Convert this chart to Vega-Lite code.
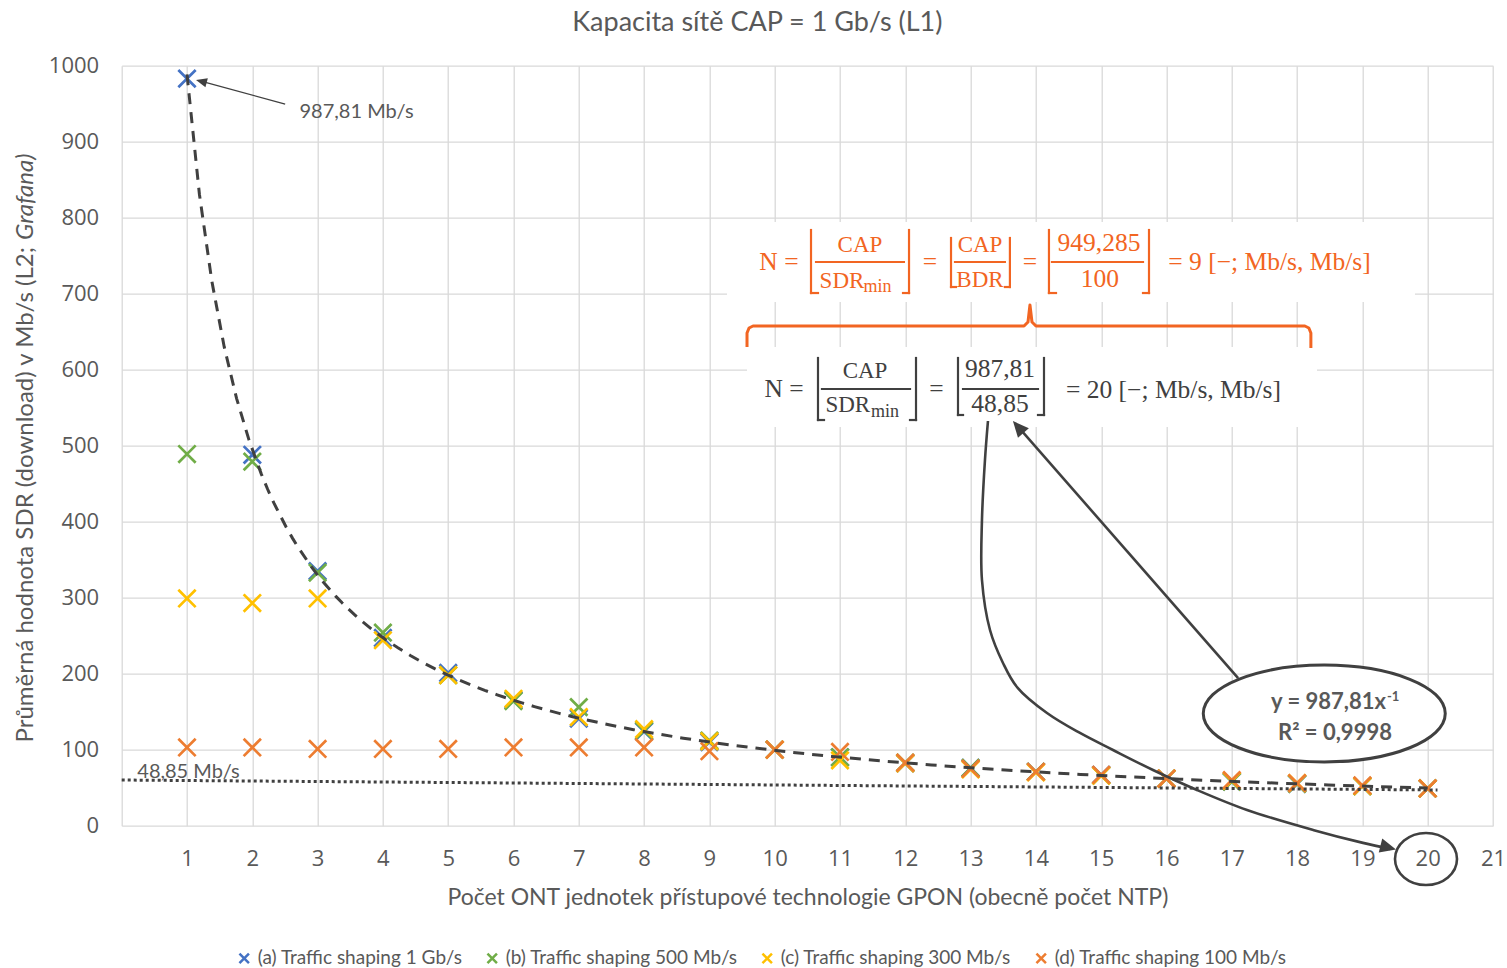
{
  "$schema": "https://vega.github.io/schema/vega-lite/v6.json",
  "width": 1371.3,
  "height": 760,
  "autosize": {"type": "none"},
  "padding": {"left": 121.7, "top": 65.7, "right": 14, "bottom": 142.3},
  "background": "white",
  "title": {"text": "Kapacita sítě CAP = 1 Gb/s (L1)", "font": "Lato", "fontSize": 27, "fontWeight": "normal", "color": "#595959", "anchor": "middle", "frame": "group", "dx": -50, "offset": 18},
  "config": {
    "view": {"stroke": null},
    "axis": {"gridColor": "#D9D9D9", "gridWidth": 1.3, "domain": false, "ticks": false, "labelFont": "Open Sans", "labelFontSize": 22, "labelColor": "#595959", "labelFlush": false, "labelOverlap": false, "format": "d"}
  },
  "datasets": {
    "points": [
      {"n": 1, "sdr": 983, "series": "(a) Traffic shaping 1 Gb/s"},
      {"n": 2, "sdr": 488, "series": "(a) Traffic shaping 1 Gb/s"},
      {"n": 3, "sdr": 335, "series": "(a) Traffic shaping 1 Gb/s"},
      {"n": 4, "sdr": 247, "series": "(a) Traffic shaping 1 Gb/s"},
      {"n": 5, "sdr": 201, "series": "(a) Traffic shaping 1 Gb/s"},
      {"n": 6, "sdr": 165, "series": "(a) Traffic shaping 1 Gb/s"},
      {"n": 7, "sdr": 141, "series": "(a) Traffic shaping 1 Gb/s"},
      {"n": 8, "sdr": 124, "series": "(a) Traffic shaping 1 Gb/s"},
      {"n": 9, "sdr": 110, "series": "(a) Traffic shaping 1 Gb/s"},
      {"n": 10, "sdr": 100, "series": "(a) Traffic shaping 1 Gb/s"},
      {"n": 11, "sdr": 90, "series": "(a) Traffic shaping 1 Gb/s"},
      {"n": 12, "sdr": 82, "series": "(a) Traffic shaping 1 Gb/s"},
      {"n": 13, "sdr": 76, "series": "(a) Traffic shaping 1 Gb/s"},
      {"n": 14, "sdr": 71, "series": "(a) Traffic shaping 1 Gb/s"},
      {"n": 15, "sdr": 67, "series": "(a) Traffic shaping 1 Gb/s"},
      {"n": 16, "sdr": 62, "series": "(a) Traffic shaping 1 Gb/s"},
      {"n": 17, "sdr": 58, "series": "(a) Traffic shaping 1 Gb/s"},
      {"n": 18, "sdr": 55, "series": "(a) Traffic shaping 1 Gb/s"},
      {"n": 19, "sdr": 52, "series": "(a) Traffic shaping 1 Gb/s"},
      {"n": 20, "sdr": 49, "series": "(a) Traffic shaping 1 Gb/s"},
      {"n": 1, "sdr": 489, "series": "(b) Traffic shaping 500 Mb/s"},
      {"n": 2, "sdr": 479, "series": "(b) Traffic shaping 500 Mb/s"},
      {"n": 3, "sdr": 333, "series": "(b) Traffic shaping 500 Mb/s"},
      {"n": 4, "sdr": 254, "series": "(b) Traffic shaping 500 Mb/s"},
      {"n": 5, "sdr": 198, "series": "(b) Traffic shaping 500 Mb/s"},
      {"n": 6, "sdr": 164, "series": "(b) Traffic shaping 500 Mb/s"},
      {"n": 7, "sdr": 156, "series": "(b) Traffic shaping 500 Mb/s"},
      {"n": 8, "sdr": 125, "series": "(b) Traffic shaping 500 Mb/s"},
      {"n": 9, "sdr": 112, "series": "(b) Traffic shaping 500 Mb/s"},
      {"n": 10, "sdr": 100, "series": "(b) Traffic shaping 500 Mb/s"},
      {"n": 11, "sdr": 90, "series": "(b) Traffic shaping 500 Mb/s"},
      {"n": 12, "sdr": 83, "series": "(b) Traffic shaping 500 Mb/s"},
      {"n": 13, "sdr": 76, "series": "(b) Traffic shaping 500 Mb/s"},
      {"n": 14, "sdr": 71, "series": "(b) Traffic shaping 500 Mb/s"},
      {"n": 15, "sdr": 66, "series": "(b) Traffic shaping 500 Mb/s"},
      {"n": 16, "sdr": 62, "series": "(b) Traffic shaping 500 Mb/s"},
      {"n": 17, "sdr": 58, "series": "(b) Traffic shaping 500 Mb/s"},
      {"n": 18, "sdr": 55, "series": "(b) Traffic shaping 500 Mb/s"},
      {"n": 19, "sdr": 52, "series": "(b) Traffic shaping 500 Mb/s"},
      {"n": 20, "sdr": 49, "series": "(b) Traffic shaping 500 Mb/s"},
      {"n": 1, "sdr": 299, "series": "(c) Traffic shaping 300 Mb/s"},
      {"n": 2, "sdr": 293, "series": "(c) Traffic shaping 300 Mb/s"},
      {"n": 3, "sdr": 299, "series": "(c) Traffic shaping 300 Mb/s"},
      {"n": 4, "sdr": 244, "series": "(c) Traffic shaping 300 Mb/s"},
      {"n": 5, "sdr": 198, "series": "(c) Traffic shaping 300 Mb/s"},
      {"n": 6, "sdr": 167, "series": "(c) Traffic shaping 300 Mb/s"},
      {"n": 7, "sdr": 143, "series": "(c) Traffic shaping 300 Mb/s"},
      {"n": 8, "sdr": 127, "series": "(c) Traffic shaping 300 Mb/s"},
      {"n": 9, "sdr": 111, "series": "(c) Traffic shaping 300 Mb/s"},
      {"n": 10, "sdr": 100, "series": "(c) Traffic shaping 300 Mb/s"},
      {"n": 11, "sdr": 86, "series": "(c) Traffic shaping 300 Mb/s"},
      {"n": 12, "sdr": 82, "series": "(c) Traffic shaping 300 Mb/s"},
      {"n": 13, "sdr": 74, "series": "(c) Traffic shaping 300 Mb/s"},
      {"n": 14, "sdr": 70, "series": "(c) Traffic shaping 300 Mb/s"},
      {"n": 15, "sdr": 66, "series": "(c) Traffic shaping 300 Mb/s"},
      {"n": 16, "sdr": 62, "series": "(c) Traffic shaping 300 Mb/s"},
      {"n": 17, "sdr": 59, "series": "(c) Traffic shaping 300 Mb/s"},
      {"n": 18, "sdr": 56, "series": "(c) Traffic shaping 300 Mb/s"},
      {"n": 19, "sdr": 52, "series": "(c) Traffic shaping 300 Mb/s"},
      {"n": 20, "sdr": 49, "series": "(c) Traffic shaping 300 Mb/s"},
      {"n": 1, "sdr": 103, "series": "(d) Traffic shaping 100 Mb/s"},
      {"n": 2, "sdr": 103, "series": "(d) Traffic shaping 100 Mb/s"},
      {"n": 3, "sdr": 101, "series": "(d) Traffic shaping 100 Mb/s"},
      {"n": 4, "sdr": 101, "series": "(d) Traffic shaping 100 Mb/s"},
      {"n": 5, "sdr": 101, "series": "(d) Traffic shaping 100 Mb/s"},
      {"n": 6, "sdr": 103, "series": "(d) Traffic shaping 100 Mb/s"},
      {"n": 7, "sdr": 103, "series": "(d) Traffic shaping 100 Mb/s"},
      {"n": 8, "sdr": 103, "series": "(d) Traffic shaping 100 Mb/s"},
      {"n": 9, "sdr": 98, "series": "(d) Traffic shaping 100 Mb/s"},
      {"n": 10, "sdr": 100, "series": "(d) Traffic shaping 100 Mb/s"},
      {"n": 11, "sdr": 97, "series": "(d) Traffic shaping 100 Mb/s"},
      {"n": 12, "sdr": 83, "series": "(d) Traffic shaping 100 Mb/s"},
      {"n": 13, "sdr": 75, "series": "(d) Traffic shaping 100 Mb/s"},
      {"n": 14, "sdr": 71, "series": "(d) Traffic shaping 100 Mb/s"},
      {"n": 15, "sdr": 67, "series": "(d) Traffic shaping 100 Mb/s"},
      {"n": 16, "sdr": 62, "series": "(d) Traffic shaping 100 Mb/s"},
      {"n": 17, "sdr": 60, "series": "(d) Traffic shaping 100 Mb/s"},
      {"n": 18, "sdr": 56, "series": "(d) Traffic shaping 100 Mb/s"},
      {"n": 19, "sdr": 53, "series": "(d) Traffic shaping 100 Mb/s"},
      {"n": 20, "sdr": 49, "series": "(d) Traffic shaping 100 Mb/s"}
    ],
    "boxes": [
      {"x": 9.27, "x2": 19.805, "y": 794.3, "y2": 689.1},
      {"x": 9.576, "x2": 18.305, "y": 629.9, "y2": 524.6}
    ],
    "brace": [
      {"i": 1, "x": 9.576, "y": 629.9},
      {"i": 2, "x": 9.576, "y": 648.3},
      {"i": 3, "x": 9.607, "y": 654.9},
      {"i": 4, "x": 9.668, "y": 657.5},
      {"i": 5, "x": 13.818, "y": 657.5},
      {"i": 6, "x": 13.879, "y": 662.8},
      {"i": 7, "x": 13.909, "y": 685.1},
      {"i": 8, "x": 13.94, "y": 662.8},
      {"i": 9, "x": 14.001, "y": 657.5},
      {"i": 10, "x": 18.119, "y": 657.5},
      {"i": 11, "x": 18.18, "y": 654.9},
      {"i": 12, "x": 18.211, "y": 648.3},
      {"i": 13, "x": 18.211, "y": 628.6}
    ],
    "segOrange": [
      {"x": 10.556, "y": 783.8, "x2": 10.556, "y2": 700.9},
      {"x": 10.556, "y": 700.9, "x2": 10.663, "y2": 700.9},
      {"x": 10.633, "y": 741.7, "x2": 11.979, "y2": 741.7},
      {"x": 12.057, "y": 783.8, "x2": 12.057, "y2": 700.9},
      {"x": 11.965, "y": 700.9, "x2": 12.057, "y2": 700.9},
      {"x": 12.7, "y": 773.3, "x2": 12.7, "y2": 708.8},
      {"x": 12.7, "y": 708.8, "x2": 12.776, "y2": 708.8},
      {"x": 12.761, "y": 741.7, "x2": 13.525, "y2": 741.7},
      {"x": 13.602, "y": 773.3, "x2": 13.602, "y2": 708.8},
      {"x": 13.525, "y": 708.8, "x2": 13.602, "y2": 708.8},
      {"x": 14.2, "y": 783.8, "x2": 14.2, "y2": 700.9},
      {"x": 14.2, "y": 700.9, "x2": 14.308, "y2": 700.9},
      {"x": 14.246, "y": 741.7, "x2": 15.64, "y2": 741.7},
      {"x": 15.732, "y": 783.8, "x2": 15.732, "y2": 700.9},
      {"x": 15.64, "y": 700.9, "x2": 15.732, "y2": 700.9}
    ],
    "segGray": [
      {"x": 10.663, "y": 615.4, "x2": 10.663, "y2": 533.8},
      {"x": 10.663, "y": 533.8, "x2": 10.755, "y2": 533.8},
      {"x": 10.724, "y": 574.6, "x2": 12.072, "y2": 574.6},
      {"x": 12.164, "y": 615.4, "x2": 12.164, "y2": 533.8},
      {"x": 12.072, "y": 533.8, "x2": 12.164, "y2": 533.8},
      {"x": 12.807, "y": 615.4, "x2": 12.807, "y2": 540.4},
      {"x": 12.807, "y": 540.4, "x2": 12.884, "y2": 540.4},
      {"x": 12.884, "y": 574.6, "x2": 14.032, "y2": 574.6},
      {"x": 14.124, "y": 615.4, "x2": 14.124, "y2": 540.4},
      {"x": 14.032, "y": 540.4, "x2": 14.124, "y2": 540.4}
    ],
    "txtOrange": [
      {"x": 10.065, "y": 731.2, "label": "N ="},
      {"x": 12.378, "y": 731.2, "label": "="},
      {"x": 13.908, "y": 731.2, "label": "="},
      {"x": 14.966, "y": 756.2, "label": "949,285"},
      {"x": 14.981, "y": 708.8, "label": "100"},
      {"x": 17.577, "y": 731.2, "label": "= 9 [−; Mb/s, Mb/s]"}
    ],
    "capsOrange": [
      {"x": 11.306, "y": 754.9, "label": "CAP"},
      {"x": 11.03, "y": 707.5, "label": "SDR"},
      {"x": 13.144, "y": 754.9, "label": "CAP"},
      {"x": 13.144, "y": 708.5, "label": "BDR"}
    ],
    "txtOrangeSub": [
      {"x": 11.575, "y": 702.2, "label": "min"}
    ],
    "txtGray": [
      {"x": 10.142, "y": 564.1, "label": "N ="},
      {"x": 12.478, "y": 564.1, "label": "="},
      {"x": 13.45, "y": 590.4, "label": "987,81"},
      {"x": 13.45, "y": 544.3, "label": "48,85"},
      {"x": 16.107, "y": 562.8, "label": "= 20 [−; Mb/s, Mb/s]"}
    ],
    "capsGray": [
      {"x": 11.383, "y": 589.1, "label": "CAP"},
      {"x": 11.12, "y": 544.3, "label": "SDR"}
    ],
    "txtGraySub": [
      {"x": 11.69, "y": 537.8, "label": "min"}
    ],
    "valueLabels": [
      {"x": 3.596, "y": 930.8, "label": "987,81 Mb/s"},
      {"x": 1.023, "y": 62.4, "label": "48,85 Mb/s"}
    ],
    "threshold": [
      {"x": 0, "y": 60.1},
      {"x": 20.15, "y": 47}
    ],
    "arrows": [
      {"id": "straight", "i": 1, "x": 17.097, "y": 194.3},
      {"id": "straight", "i": 2, "x": 13.709, "y": 526.7},
      {"id": "curve", "i": 1, "x": 13.266, "y": 532.5},
      {"id": "curve", "i": 2, "x": 13.22, "y": 481.2},
      {"id": "curve", "i": 3, "x": 13.174, "y": 402.2},
      {"id": "curve", "i": 4, "x": 13.174, "y": 323.3},
      {"id": "curve", "i": 5, "x": 13.297, "y": 257.5},
      {"id": "curve", "i": 6, "x": 13.496, "y": 214.1},
      {"id": "curve", "i": 7, "x": 13.71, "y": 182.5},
      {"id": "curve", "i": 8, "x": 14.17, "y": 148.3},
      {"id": "curve", "i": 9, "x": 14.675, "y": 122.0},
      {"id": "curve", "i": 10, "x": 15.181, "y": 99.6},
      {"id": "curve", "i": 11, "x": 15.793, "y": 73.3},
      {"id": "curve", "i": 12, "x": 16.467, "y": 47.0},
      {"id": "curve", "i": 13, "x": 17.233, "y": 20.7},
      {"id": "curve", "i": 14, "x": 18.243, "y": -5.5},
      {"id": "curve", "i": 15, "x": 19.009, "y": -22.6},
      {"id": "curve", "i": 16, "x": 19.423, "y": -30.5}
    ],
    "thinArrow": [
      {"i": 1, "x": 2.503, "y": 949.6},
      {"i": 2, "x": 1.199, "y": 979.9}
    ]
  },
  "layer": [
    {
      "data": {"name": "boxes"},
      "mark": {"type": "rect", "fill": "white", "stroke": null},
      "encoding": {
        "x": {"field": "x", "type": "quantitative", "scale": {"domain": [0, 21], "nice": false, "zero": false},
          "axis": {"values": [0, 1, 2, 3, 4, 5, 6, 7, 8, 9, 10, 11, 12, 13, 14, 15, 16, 17, 18, 19, 20, 21], "labelExpr": "datum.value == 0 ? '' : datum.label", "labelPadding": 23, "title": "Počet ONT jednotek přístupové technologie GPON (obecně počet NTP)", "titleFont": "Lato", "titleFontSize": 23, "titleColor": "#595959", "titleFontWeight": "normal", "titlePadding": 17}},
        "x2": {"field": "x2"},
        "y": {"field": "y", "type": "quantitative", "scale": {"domain": [0, 1000], "nice": false},
          "axis": {"values": [0, 100, 200, 300, 400, 500, 600, 700, 800, 900, 1000], "labelPadding": 23, "title": null}},
        "y2": {"field": "y2"}
      }
    },
    {
      "data": {"name": "brace"},
      "mark": {"type": "line", "color": "#F26522", "strokeWidth": 3, "strokeJoin": "round"},
      "encoding": {
        "x": {"field": "x", "type": "quantitative"},
        "y": {"field": "y", "type": "quantitative"},
        "order": {"field": "i", "type": "quantitative"}
      }
    },
    {
      "data": {"name": "segOrange"},
      "mark": {"type": "rule", "color": "#F26522", "strokeWidth": 2.2, "strokeCap": "square"},
      "encoding": {
        "x": {"field": "x", "type": "quantitative"},
        "y": {"field": "y", "type": "quantitative"},
        "x2": {"field": "x2"},
        "y2": {"field": "y2"}
      }
    },
    {
      "data": {"name": "segGray"},
      "mark": {"type": "rule", "color": "#404040", "strokeWidth": 2.2, "strokeCap": "square"},
      "encoding": {
        "x": {"field": "x", "type": "quantitative"},
        "y": {"field": "y", "type": "quantitative"},
        "x2": {"field": "x2"},
        "y2": {"field": "y2"}
      }
    },
    {
      "data": {"name": "txtOrange"},
      "mark": {"type": "text", "font": "Liberation Serif", "fontSize": 25.5, "color": "#F26522", "align": "center", "baseline": "alphabetic"},
      "encoding": {
        "x": {"field": "x", "type": "quantitative"},
        "y": {"field": "y", "type": "quantitative"},
        "text": {"field": "label"}
      }
    },
    {
      "data": {"name": "capsOrange"},
      "mark": {"type": "text", "font": "Liberation Serif", "fontSize": 23, "color": "#F26522", "align": "center", "baseline": "alphabetic"},
      "encoding": {
        "x": {"field": "x", "type": "quantitative"},
        "y": {"field": "y", "type": "quantitative"},
        "text": {"field": "label"}
      }
    },
    {
      "data": {"name": "txtOrangeSub"},
      "mark": {"type": "text", "font": "Liberation Serif", "fontSize": 18, "color": "#F26522", "align": "center", "baseline": "alphabetic"},
      "encoding": {
        "x": {"field": "x", "type": "quantitative"},
        "y": {"field": "y", "type": "quantitative"},
        "text": {"field": "label"}
      }
    },
    {
      "data": {"name": "txtGray"},
      "mark": {"type": "text", "font": "Liberation Serif", "fontSize": 25.5, "color": "#404040", "align": "center", "baseline": "alphabetic"},
      "encoding": {
        "x": {"field": "x", "type": "quantitative"},
        "y": {"field": "y", "type": "quantitative"},
        "text": {"field": "label"}
      }
    },
    {
      "data": {"name": "capsGray"},
      "mark": {"type": "text", "font": "Liberation Serif", "fontSize": 23, "color": "#404040", "align": "center", "baseline": "alphabetic"},
      "encoding": {
        "x": {"field": "x", "type": "quantitative"},
        "y": {"field": "y", "type": "quantitative"},
        "text": {"field": "label"}
      }
    },
    {
      "data": {"name": "txtGraySub"},
      "mark": {"type": "text", "font": "Liberation Serif", "fontSize": 18, "color": "#404040", "align": "center", "baseline": "alphabetic"},
      "encoding": {
        "x": {"field": "x", "type": "quantitative"},
        "y": {"field": "y", "type": "quantitative"},
        "text": {"field": "label"}
      }
    },
    {
      "data": {"name": "points"},
      "mark": {"type": "point", "shape": "M-1,-1L1,1M1,-1L-1,1", "filled": false, "size": 300, "strokeWidth": 2.7, "opacity": 1},
      "encoding": {
        "x": {"field": "n", "type": "quantitative"},
        "y": {"field": "sdr", "type": "quantitative"},
        "color": {"field": "series", "type": "nominal",
          "scale": {"domain": ["(a) Traffic shaping 1 Gb/s", "(b) Traffic shaping 500 Mb/s", "(c) Traffic shaping 300 Mb/s", "(d) Traffic shaping 100 Mb/s"], "range": ["#4472C4", "#70AD47", "#FFC000", "#ED7D31"]},
          "legend": {"orient": "none", "legendX": 113, "legendY": 883, "direction": "horizontal", "title": null, "symbolType": "M-1,-1L1,1M1,-1L-1,1", "symbolSize": 90, "symbolStrokeWidth": 2.5, "labelFont": "Lato", "labelFontSize": 19, "labelColor": "#595959", "labelLimit": 400, "columnPadding": 19, "labelOffset": 4, "padding": 0}}
      }
    },
    {
      "data": {"name": "points"},
      "transform": [
        {"filter": "datum.series === '(a) Traffic shaping 1 Gb/s'"},
        {"regression": "sdr", "on": "n", "method": "pow", "extent": [1, 20]}
      ],
      "mark": {"type": "line", "color": "#404040", "strokeWidth": 3, "strokeDash": [11, 8]},
      "encoding": {
        "x": {"field": "n", "type": "quantitative"},
        "y": {"field": "sdr", "type": "quantitative"}
      }
    },
    {
      "data": {"name": "threshold"},
      "mark": {"type": "line", "color": "#404040", "strokeWidth": 3, "strokeDash": [3, 3]},
      "encoding": {
        "x": {"field": "x", "type": "quantitative"},
        "y": {"field": "y", "type": "quantitative"}
      }
    },
    {
      "data": {"name": "valueLabels"},
      "mark": {"type": "text", "font": "Lato", "fontSize": 20, "color": "#595959", "align": "center", "baseline": "alphabetic"},
      "encoding": {
        "x": {"field": "x", "type": "quantitative"},
        "y": {"field": "y", "type": "quantitative"},
        "text": {"field": "label"}
      }
    },
    {
      "data": {"name": "thinArrow"},
      "mark": {"type": "line", "color": "#404040", "strokeWidth": 1.3},
      "encoding": {
        "x": {"field": "x", "type": "quantitative"},
        "y": {"field": "y", "type": "quantitative"},
        "order": {"field": "i", "type": "quantitative"}
      }
    },
    {
      "data": {"name": "arrows"},
      "mark": {"type": "line", "color": "#404040", "strokeWidth": 2.6, "interpolate": "catmull-rom"},
      "encoding": {
        "x": {"field": "x", "type": "quantitative"},
        "y": {"field": "y", "type": "quantitative"},
        "detail": {"field": "id", "type": "nominal"},
        "order": {"field": "i", "type": "quantitative"}
      }
    },
    {
      "data": {"values": [{"x": 1.138, "y": 981.2}]},
      "mark": {"type": "point", "shape": "M0,0L-1,-0.42L-1,0.42Z", "filled": true, "color": "#404040", "opacity": 1, "size": 484, "angle": 195},
      "encoding": {
        "x": {"field": "x", "type": "quantitative"},
        "y": {"field": "y", "type": "quantitative"}
      }
    },
    {
      "data": {"values": [{"x": 13.648, "y": 532.5}]},
      "mark": {"type": "point", "shape": "M0,0L-1,-0.45L-1,0.45Z", "filled": true, "color": "#404040", "opacity": 1, "size": 1024, "angle": 229},
      "encoding": {
        "x": {"field": "x", "type": "quantitative"},
        "y": {"field": "y", "type": "quantitative"}
      }
    },
    {
      "data": {"values": [{"x": 19.515, "y": -31.2}]},
      "mark": {"type": "point", "shape": "M0,0L-1,-0.45L-1,0.45Z", "filled": true, "color": "#404040", "opacity": 1, "size": 1024, "angle": 14},
      "encoding": {
        "x": {"field": "x", "type": "quantitative"},
        "y": {"field": "y", "type": "quantitative"}
      }
    },
    {
      "data": {"values": [{"x": 18.416, "y": 147.6}]},
      "mark": {"type": "point", "shape": "M-1,0A1,0.4,0,1,1,1,0A1,0.4,0,1,1,-1,0Z", "size": 58564, "fill": "white", "stroke": "#404040", "strokeWidth": 3, "opacity": 1, "fillOpacity": 1},
      "encoding": {
        "x": {"field": "x", "type": "quantitative"},
        "y": {"field": "y", "type": "quantitative"}
      }
    },
    {
      "data": {"values": [{"x": 19.974, "y": -43.8}]},
      "mark": {"type": "point", "shape": "M-1,0A1,0.84,0,1,1,1,0A1,0.84,0,1,1,-1,0Z", "size": 3844, "filled": false, "stroke": "#404040", "strokeWidth": 2.6, "opacity": 1},
      "encoding": {
        "x": {"field": "x", "type": "quantitative"},
        "y": {"field": "y", "type": "quantitative"}
      }
    },
    {
      "data": {"values": [{"x": 18.481, "y": 153.0, "label": "y = 987,81x"}, {"x": 18.58, "y": 112.8, "label": "R² = 0,9998"}]},
      "mark": {"type": "text", "font": "Lato", "fontSize": 22, "fontWeight": "bold", "color": "#595959", "align": "center", "baseline": "alphabetic"},
      "encoding": {
        "x": {"field": "x", "type": "quantitative"},
        "y": {"field": "y", "type": "quantitative"},
        "text": {"field": "label"}
      }
    },
    {
      "data": {"values": [{"x": 19.47, "y": 164.1, "label": "-1"}]},
      "mark": {"type": "text", "font": "Lato", "fontSize": 13, "fontWeight": "bold", "color": "#595959", "align": "center", "baseline": "alphabetic"},
      "encoding": {
        "x": {"field": "x", "type": "quantitative"},
        "y": {"field": "y", "type": "quantitative"},
        "text": {"field": "label"}
      }
    },
    {
      "data": {"values": [{"x": -1.4655, "y": 761.4, "label": "Průměrná hodnota SDR (download) v Mb/s (L2;"}]},
      "mark": {"type": "text", "font": "Lato", "fontSize": 24, "color": "#595959", "align": "right", "baseline": "middle", "angle": 270},
      "encoding": {
        "x": {"field": "x", "type": "quantitative"},
        "y": {"field": "y", "type": "quantitative"},
        "text": {"field": "label"}
      }
    },
    {
      "data": {"values": [{"x": -1.4655, "y": 770.7, "label": "Grafana)"}]},
      "mark": {"type": "text", "font": "Lato", "fontSize": 24, "fontStyle": "italic", "color": "#595959", "align": "left", "baseline": "middle", "angle": 270},
      "encoding": {
        "x": {"field": "x", "type": "quantitative"},
        "y": {"field": "y", "type": "quantitative"},
        "text": {"field": "label"}
      }
    }
  ]
}
